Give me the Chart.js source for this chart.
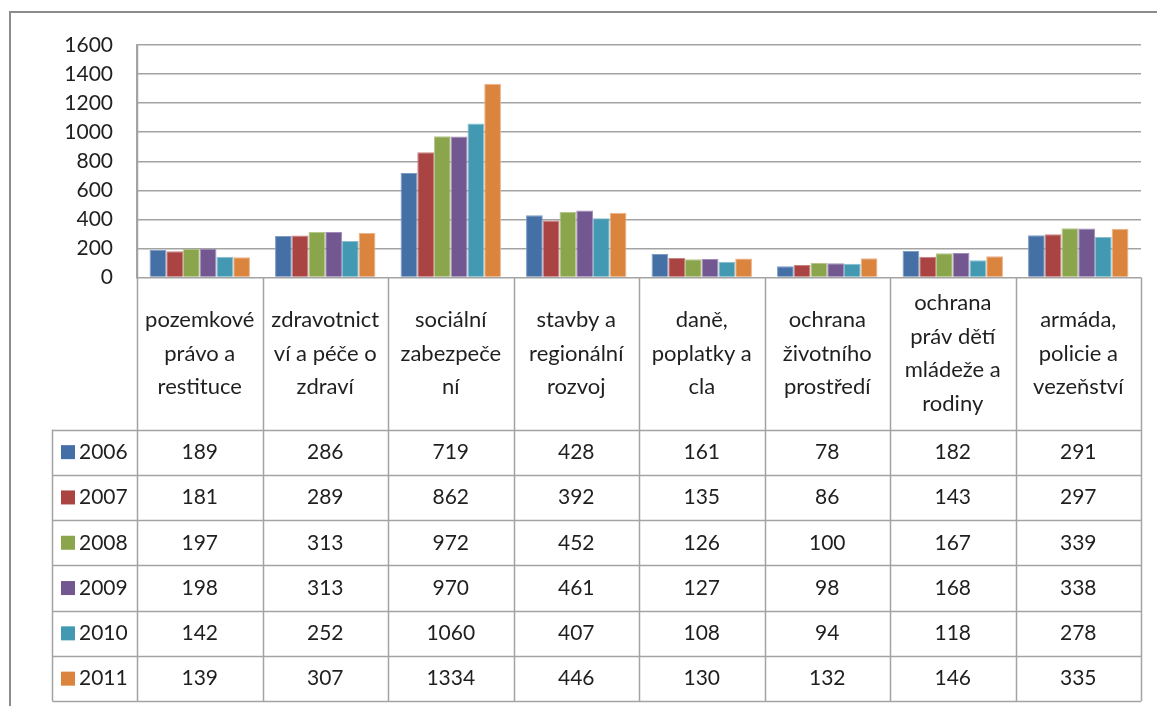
<!DOCTYPE html>
<html>
<head>
<meta charset="utf-8">
<script src="https://cdn.jsdelivr.net/npm/chart.js@4.4.1/dist/chart.umd.min.js"></script>
<style>
  html, body { margin: 0; padding: 0; background: #fff; }
  #wrap { width: 1157px; height: 706px; position: relative; }
</style>
</head>
<body>
<div id="wrap"><canvas id="chart"></canvas></div>
<script>
//------------------------------------------------------
// DATA
//------------------------------------------------------
var categories = [
  ['pozemkové', 'právo a', 'restituce'],
  ['zdravotnict', 'ví a péče o', 'zdraví'],
  ['sociální', 'zabezpeče', 'ní'],
  ['stavby a', 'regionální', 'rozvoj'],
  ['daně,', 'poplatky a', 'cla'],
  ['ochrana', 'životního', 'prostředí'],
  ['ochrana', 'práv dětí', 'mládeže a', 'rodiny'],
  ['armáda,', 'policie a', 'vezeňství']
];
var years = ['2006', '2007', '2008', '2009', '2010', '2011'];

var v2006 = [189, 286, 719, 428, 161, 78, 182, 291];
var v2007 = [181, 289, 862, 392, 135, 86, 143, 297];
var v2008 = [197, 313, 972, 452, 126, 100, 167, 339];
var v2009 = [198, 313, 970, 461, 127, 98, 168, 338];
var v2010 = [142, 252, 1060, 407, 108, 94, 118, 278];
var v2011 = [139, 307, 1334, 446, 130, 132, 146, 335];

var yTicks = [0, 200, 400, 600, 800, 1000, 1200, 1400, 1600];

var colors = ['#4470a6', '#aa4443', '#8ba54c', '#725791', '#4399b1', '#db843d'];
var edges  = ['#7d9cc4', '#c98180', '#b3c78a', '#a08cb8', '#85bfd0', '#eab28a'];

var series = [v2006, v2007, v2008, v2009, v2010, v2011];

var FONT = 'Lato, "Open Sans", sans-serif';
var lineCol = '#a3a3a3';

//------------------------------------------------------
// DATA TABLE UNDER THE PLOT
//------------------------------------------------------
var dataTable = {
  id: 'dataTable',
  afterDraw: function (chart) {
    var c = chart.ctx;
    var area = chart.chartArea;
    var x = chart.scales.x;
    var n = categories.length;
    var cw = (area.right - area.left) / n;
    var headTop = area.bottom;
    var tableTop = 429.5;
    var rowH = 45.3;
    var tableLeft = 52.5;
    var tableBottom = tableTop + rowH * years.length;

    c.save();

    // outer frame
    c.strokeStyle = '#8c8c8c';
    c.lineWidth = 2;
    c.beginPath();
    c.moveTo(10, 720);
    c.lineTo(10, 12);
    c.lineTo(1170, 12);
    c.stroke();

    c.strokeStyle = lineCol;
    c.lineWidth = 1.5;
    c.beginPath();
    // column lines, header + body
    for (var i = 0; i <= n; i++) {
      var lx = Math.round(area.left + i * cw) + 0.5;
      c.moveTo(lx, i === 0 ? area.top : headTop);
      c.lineTo(lx, tableBottom);
    }
    // row lines
    for (var r = 0; r <= years.length; r++) {
      var ly = Math.round(tableTop + r * rowH) + 0.5;
      c.moveTo(tableLeft, ly);
      c.lineTo(area.right, ly);
    }
    c.moveTo(tableLeft, tableTop);
    c.lineTo(tableLeft, tableBottom);
    c.stroke();

    c.fillStyle = '#1f1f1f';
    c.font = '22px ' + FONT;
    c.textAlign = 'center';
    c.textBaseline = 'middle';

    // category headers
    var headMid = (headTop + tableTop) / 2;
    var lh = 33.5;
    categories.forEach(function (lines, i) {
      var cx = x.getPixelForValue(i);
      var y0 = headMid - (lines.length - 1) * lh / 2;
      lines.forEach(function (t, k) {
        c.fillText(t, cx, y0 + k * lh);
      });
    });

    // legend keys and values
    c.font = '21px ' + FONT;
    years.forEach(function (yr, r) {
      var cy = tableTop + r * rowH + rowH / 2;
      c.fillStyle = colors[r];
      c.fillRect(61, cy - 7, 14, 14);
      c.fillStyle = '#1f1f1f';
      c.textAlign = 'left';
      c.fillText(yr, 79, cy);
      c.textAlign = 'center';
      series[r].forEach(function (v, i) {
        c.fillText(String(v), x.getPixelForValue(i), cy);
      });
    });

    c.restore();
  }
};

//------------------------------------------------------
// CHART
//------------------------------------------------------
var datasets = years.map(function (yr, i) {
  return {
    label: yr,
    data: series[i],
    backgroundColor: colors[i],
    borderColor: edges[i],
    borderWidth: 1,
    categoryPercentage: 0.8,
    barPercentage: 1.0
  };
});

var ctx = document.getElementById('chart').getContext('2d');
var chart = new Chart(ctx, {
  type: 'bar',
  data: {
    labels: categories.map(function (c) { return c.join(' '); }),
    datasets: datasets
  },
  options: {
    responsive: true,
    maintainAspectRatio: false,
    animation: false,
    layout: {
      padding: { left: 52, right: 16, top: 45, bottom: 428.5 }
    },
    plugins: {
      legend: { display: false },
      tooltip: { enabled: false }
    },
    scales: {
      x: {
        display: false
      },
      y: {
        min: 0,
        max: 1600,
        afterBuildTicks: function (axis) {
          axis.ticks = yTicks.map(function (v) { return { value: v }; });
        },
        afterFit: function (axis) { axis.width = 85; },
        grid: {
          color: lineCol,
          lineWidth: 1.5,
          drawTicks: false
        },
        border: { display: true, color: lineCol, width: 1.5 },
        ticks: {
          padding: 24,
          color: '#1f1f1f',
          font: { family: FONT, size: 21 },
          callback: function (v) { return String(v); }
        }
      }
    }
  },
  plugins: [dataTable]
});
</script>
</body>
</html>
